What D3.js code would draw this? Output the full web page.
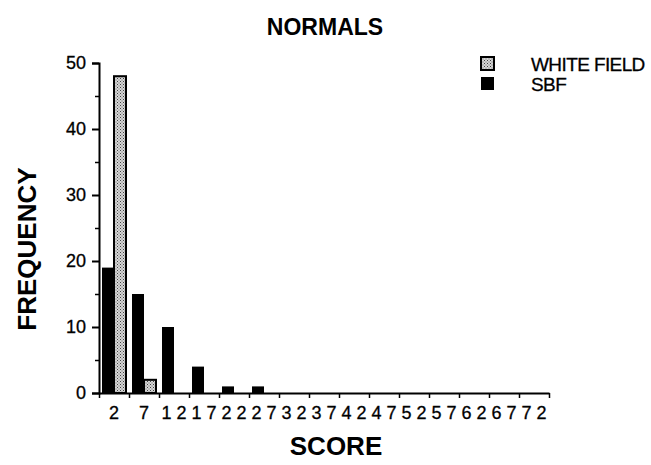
<!DOCTYPE html>
<html>
<head>
<meta charset="utf-8">
<script src="https://cdn.jsdelivr.net/npm/d3@7"></script>
<style>
  body { margin: 0; background: #fff; }
  svg { display: block; font-family: "Liberation Sans", Arial, sans-serif; }
</style>
</head>
<body>
<svg id="chart" width="651" height="465"></svg>
<script>
// data
const scores = ["2", "7", "12", "17", "22", "27", "32", "37", "42", "47", "52", "57", "62", "67", "72"];
const sbf = [19, 15, 10, 4, 1, 1, 0, 0, 0, 0, 0, 0, 0, 0, 0];
const whiteField = [48, 2, 0, 0, 0, 0, 0, 0, 0, 0, 0, 0, 0, 0, 0];
const seriesNames = ["SBF", "WHITE FIELD"];
const yTicks = [0, 10, 20, 30, 40, 50];

const svg = d3.select("#chart");
const plotLeft = 99, plotRight = 549, plotTop = 63, plotBottom = 393;

// stipple pattern for white field
const defs = svg.append("defs");
const pat = defs.append("pattern")
  .attr("id", "stip")
  .attr("width", 3).attr("height", 3)
  .attr("patternUnits", "userSpaceOnUse");
pat.append("rect").attr("width", 3).attr("height", 3).attr("fill", "#d6d6d6");
pat.append("rect").attr("x", 0).attr("y", 0).attr("width", 1).attr("height", 1).attr("fill", "#444");
pat.append("rect").attr("x", 1.5).attr("y", 1.5).attr("width", 1).attr("height", 1).attr("fill", "#666");

const x = d3.scaleBand().domain(scores).range([plotLeft, plotRight]).paddingInner(0.2).paddingOuter(0.1);
const xSub = d3.scaleBand().domain(seriesNames).range([0, x.bandwidth()]);
const xEdge = d3.scaleLinear().domain([0, scores.length]).range([plotLeft, plotRight]);
const y = d3.scaleLinear().domain([0, 50]).range([plotBottom, plotTop]);

const fills = { "SBF": "#000", "WHITE FIELD": "url(#stip)" };

// bars
const rows = scores.map((s, i) => ({ score: s, vals: [
  { name: "SBF", v: sbf[i] },
  { name: "WHITE FIELD", v: whiteField[i] }
] }));

const groups = svg.append("g").selectAll("g")
  .data(rows)
  .enter().append("g")
  .attr("transform", d => `translate(${x(d.score)},0)`);

groups.selectAll("rect")
  .data(d => d.vals.filter(e => e.v > 0))
  .enter().append("rect")
  .attr("x", d => xSub(d.name))
  .attr("y", d => y(d.v))
  .attr("width", xSub.bandwidth())
  .attr("height", d => y(0) - y(d.v))
  .attr("fill", d => fills[d.name])
  .attr("stroke", "#000")
  .attr("stroke-width", d => d.name === "SBF" ? 0 : 2);

// y axis
const yAxis = svg.append("g")
  .attr("transform", `translate(${plotLeft},0)`)
  .call(d3.axisLeft(y).tickValues(yTicks).tickSize(7).tickPadding(6));
yAxis.select(".domain").attr("stroke-width", 2);
yAxis.selectAll(".tick line").attr("stroke-width", 2);
yAxis.selectAll("text")
  .style("font-size", "18px")
  .attr("fill", "#000").attr("stroke", "#000").attr("stroke-width", 0.3);

svg.append("g")
  .attr("transform", `translate(${plotLeft},0)`)
  .call(d3.axisLeft(y).tickValues(d3.range(5, 50, 10)).tickSize(4).tickFormat(""))
  .call(g => g.select(".domain").remove())
  .selectAll("line").attr("stroke-width", 1.5);

// x axis: boundary ticks
const xAxis = svg.append("g")
  .attr("transform", `translate(0,${plotBottom})`)
  .call(d3.axisBottom(xEdge).tickValues(d3.range(0, scores.length + 1)).tickSize(5).tickFormat("").tickSizeOuter(0));
xAxis.select(".domain").attr("stroke-width", 2);
xAxis.selectAll(".tick line").attr("stroke-width", 1.5);

// x labels at band centres, wide letter spacing
const xLab = svg.append("g")
  .attr("transform", `translate(0,${plotBottom})`)
  .call(d3.axisBottom(x).tickSize(0).tickPadding(13));
xLab.select(".domain").remove();
xLab.selectAll("text")
  .style("font-size", "18px")
  .style("letter-spacing", "5px")
  .attr("dx", "2.5px")
  .attr("fill", "#000").attr("stroke", "#000").attr("stroke-width", 0.3);

// titles
svg.append("text")
  .attr("x", 325).attr("y", 35)
  .attr("text-anchor", "middle")
  .style("font-size", "23px").style("font-weight", "bold")
  .text("NORMALS");

svg.append("text")
  .attr("x", 336).attr("y", 455)
  .attr("text-anchor", "middle")
  .style("font-size", "26px").style("font-weight", "bold")
  .text("SCORE");

svg.append("text")
  .attr("transform", "translate(36,249) rotate(-90)")
  .attr("text-anchor", "middle")
  .style("font-size", "26px").style("font-weight", "bold")
  .text("FREQUENCY");

// legend
const legendNames = ["WHITE FIELD", "SBF"];
const lg = svg.append("g").attr("transform", "translate(481,57)");
legendNames.forEach((n, i) => {
  lg.append("rect")
    .attr("x", 0).attr("y", i * 20)
    .attr("width", 13).attr("height", 13)
    .attr("fill", fills[n])
    .attr("stroke", "#000").attr("stroke-width", n === "SBF" ? 0 : 2);
  lg.append("text")
    .attr("x", 50).attr("y", i * 20 + 14)
    .style("font-size", "19px")
    .style("letter-spacing", "-0.6px")
    .attr("stroke", "#000").attr("stroke-width", 0.3)
    .text(n);
});
</script>
</body>
</html>
